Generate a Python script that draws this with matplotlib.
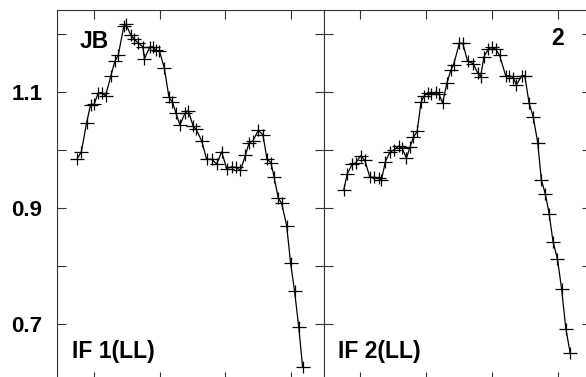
import matplotlib
matplotlib.use("Agg")
import matplotlib.pyplot as plt
from matplotlib.ticker import FixedLocator, FuncFormatter

# ---- data ----
x1 = [0.749, 0.810, 0.889, 0.950, 1.005, 1.065, 1.117, 1.178, 1.259, 1.320,
      1.370, 1.457, 1.487, 1.563, 1.616, 1.670, 1.746, 1.769, 1.852, 1.898,
      1.944, 1.997, 2.073, 2.142, 2.195, 2.248, 2.309, 2.385, 2.435, 2.511,
      2.553, 2.639, 2.715, 2.791, 2.868, 2.944, 3.020, 3.096, 3.161, 3.230,
      3.306, 3.359, 3.420, 3.501, 3.572, 3.633, 3.694, 3.740, 3.805, 3.857,
      3.933, 3.991, 4.052, 4.116, 4.174]
y1 = [0.985, 0.997, 1.046, 1.078, 1.079, 1.098, 1.099, 1.093, 1.128, 1.153,
      1.163, 1.214, 1.217, 1.198, 1.191, 1.185, 1.178, 1.157, 1.178, 1.178,
      1.172, 1.171, 1.141, 1.091, 1.083, 1.064, 1.043, 1.063, 1.068, 1.041,
      1.036, 1.016, 0.984, 0.984, 0.976, 0.997, 0.968, 0.971, 0.970, 0.965,
      0.991, 1.012, 1.016, 1.034, 1.026, 0.984, 0.978, 0.954, 0.917, 0.908,
      0.869, 0.806, 0.757, 0.695, 0.626]

x2 = [0.748, 0.802, 0.878, 0.931, 1.005, 1.069, 1.145, 1.213, 1.282, 1.320,
      1.381, 1.447, 1.508, 1.588, 1.636, 1.701, 1.758, 1.808, 1.864, 1.922,
      1.968, 2.026, 2.082, 2.151, 2.194, 2.250, 2.316, 2.377, 2.418, 2.506,
      2.558, 2.631, 2.715, 2.784, 2.829, 2.880, 2.948, 3.000, 3.058, 3.119,
      3.210, 3.268, 3.325, 3.373, 3.454, 3.500, 3.566, 3.630, 3.698, 3.752,
      3.813, 3.871, 3.930, 3.998, 4.060, 4.125, 4.191]
y2 = [0.931, 0.959, 0.976, 0.978, 0.990, 0.982, 0.953, 0.953, 0.951, 0.948,
      0.980, 0.996, 1.000, 1.007, 1.003, 0.986, 1.006, 1.022, 1.032, 1.082,
      1.093, 1.099, 1.096, 1.100, 1.097, 1.081, 1.115, 1.138, 1.147, 1.184,
      1.184, 1.153, 1.149, 1.133, 1.126, 1.161, 1.174, 1.177, 1.174, 1.163,
      1.128, 1.128, 1.125, 1.112, 1.128, 1.128, 1.081, 1.057, 1.012, 0.949,
      0.924, 0.890, 0.842, 0.812, 0.761, 0.692, 0.650]

x_ticks = [1, 2, 3, 4]
y_ticks = [0.7, 0.8, 0.9, 1.0, 1.1, 1.2]
y_labels = {0.7: "0.7", 0.9: "0.9", 1.1: "1.1"}
top_labels = ["JB", "2"]
bottom_labels = ["IF 1(LL)", "IF 2(LL)"]

# ---- figure ----
plt.rcParams['font.family'] = ['Liberation Sans', 'DejaVu Sans']
W, H = 586, 377
fig = plt.figure(figsize=(W / 100, H / 100), dpi=100)

def frac_rect(px_left, px_right, py_top, py_bottom):
    return [px_left / W, (H - py_bottom) / H, (px_right - px_left) / W, (py_bottom - py_top) / H]

ax1 = fig.add_axes(frac_rect(57, 324, 10, 381))
ax2 = fig.add_axes(frac_rect(323.5, 590.5, 10, 381))

def fmt(v, pos):
    for k, s in y_labels.items():
        if abs(v - k) < 1e-6:
            return s
    return ""

for ax, xs, ys in [(ax1, x1, y1), (ax2, x2, y2)]:
    ax.plot(xs, ys, color='black', lw=0.9, zorder=2)
    ax.plot(xs, ys, ls='none', marker='_', ms=10, mew=0.9, color='black', zorder=3)
    ax.plot(xs, ys, ls='none', marker='|', ms=8.5, mew=0.9, color='black', zorder=3)
    ax.set_xlim(0.44, 4.5)
    ax.set_ylim(0.6017, 1.2414)
    ax.xaxis.set_major_locator(FixedLocator(x_ticks))
    ax.yaxis.set_major_locator(FixedLocator(y_ticks))
    ax.tick_params(direction='in', length=6.5, width=0.8, color='#333333',
                   top=True, right=True, bottom=True, left=True,
                   labelbottom=False)
    for sp in ax.spines.values():
        sp.set_linewidth(0.8)
        sp.set_color('#333333')

ax1.yaxis.set_major_formatter(FuncFormatter(fmt))
ax1.tick_params(axis='y', labelsize=16, pad=10.5)
for lbl in ax1.get_yticklabels():
    lbl.set_fontweight('bold')
ax2.tick_params(axis='y', labelleft=False)

FS = 16.5
ax1.text(0.086, 0.945, top_labels[0], transform=ax1.transAxes, fontsize=FS,
         fontweight='bold', ha='left', va='top')
ax2.text(0.899, 0.955, top_labels[1], transform=ax2.transAxes, fontsize=FS,
         fontweight='bold', ha='right', va='top')
ax1.text(0.058, 0.063, bottom_labels[0], transform=ax1.transAxes, fontsize=FS,
         fontweight='bold', ha='left', va='baseline')
ax2.text(0.056, 0.063, bottom_labels[1], transform=ax2.transAxes, fontsize=FS,
         fontweight='bold', ha='left', va='baseline')

fig.savefig("out.png", dpi=100)
